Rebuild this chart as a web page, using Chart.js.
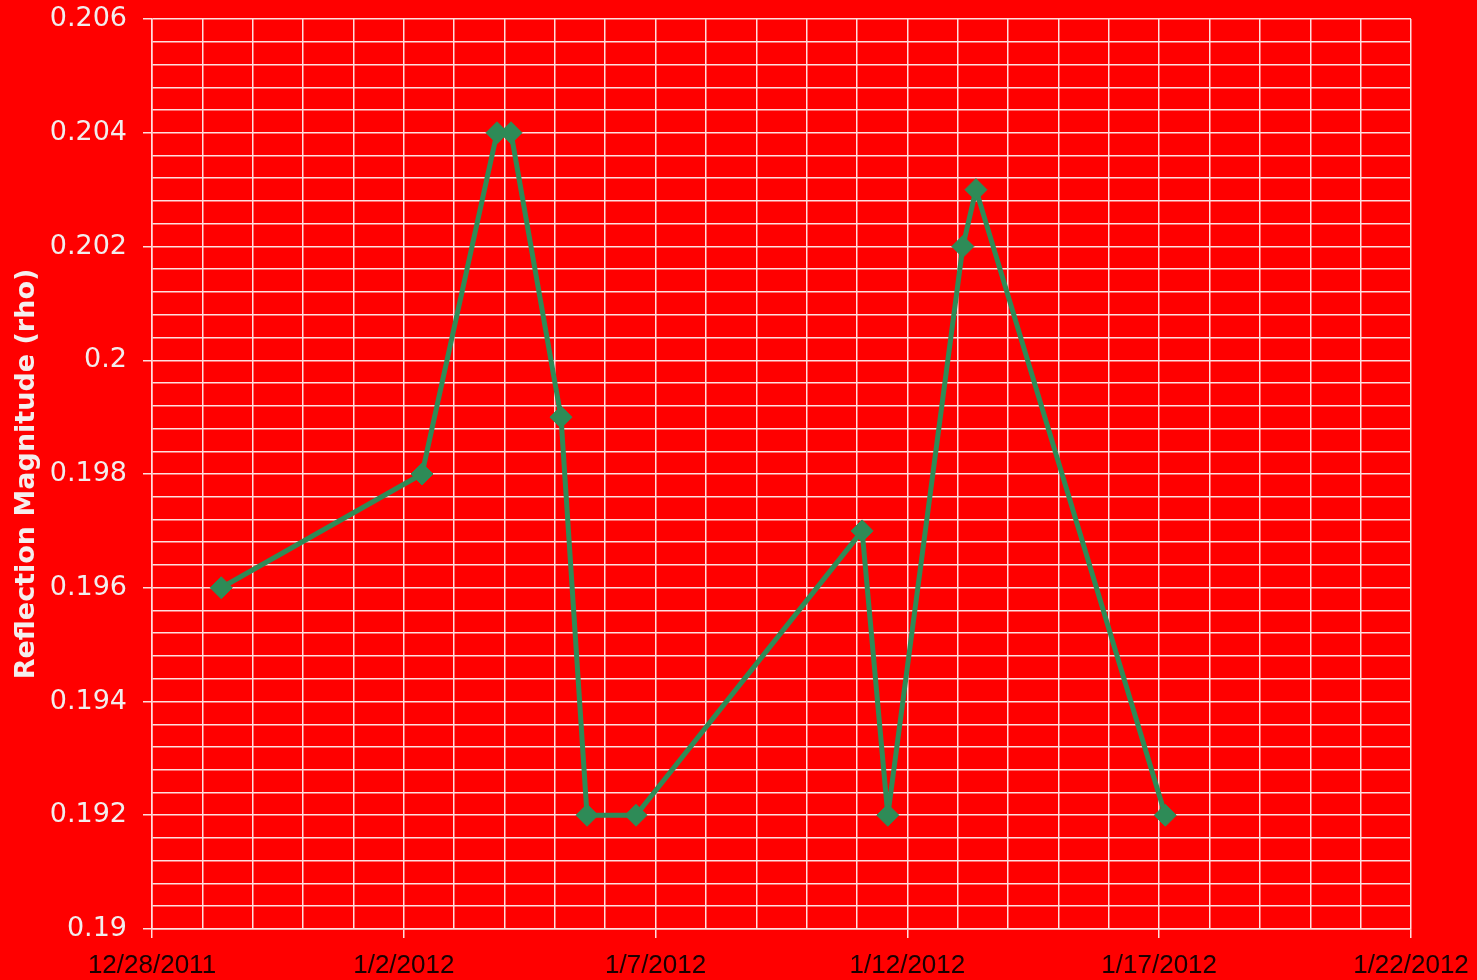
<!DOCTYPE html>
<html>
<head>
<meta charset="utf-8">
<script src="https://cdn.jsdelivr.net/npm/chart.js@4/dist/chart.umd.min.js"></script>
<style>
	html, body { margin: 0; padding: 0; background: #ff0000; }
	#wrap { width: 1477px; height: 980px; }
</style>
</head>
<body>
<div id="wrap"><canvas id="reflectionChart"></canvas></div>
<script>
// measurement times and reflection magnitude
const times = [
	'2011-12-29T09:00', '2012-01-02T08:40', '2012-01-03T20:25', '2012-01-04T03:05',
	'2012-01-05T02:55', '2012-01-05T15:20', '2012-01-06T14:40', '2012-01-11T02:25',
	'2012-01-11T14:40', '2012-01-13T02:25', '2012-01-13T08:40', '2012-01-17T02:55'
];
const rho = [0.196, 0.198, 0.204, 0.204, 0.199, 0.192, 0.192, 0.197, 0.192, 0.202, 0.203, 0.192];
const startDate = '2011-12-28T00:00';
const dayCount = 25;
const yMin = 0.19;
const yMax = 0.206;

const DAY = 86400000;
const t0 = Date.parse(startDate + 'Z');
const points = times.map((t, i) => ({ x: (Date.parse(t + 'Z') - t0) / DAY, y: rho[i] }));

function dayLabel(v) {
	const d = new Date(t0 + v * DAY);
	return (d.getUTCMonth() + 1) + '/' + d.getUTCDate() + '/' + d.getUTCFullYear();
}
const isMajorY = v => Math.round(v * 10000) % 20 === 0;
const gridColor = '#ffdede';

const ctx = document.getElementById('reflectionChart').getContext('2d');
new Chart(ctx, {
	type: 'line',
	data: {
		datasets: [{
			label: 'rho',
			data: points,
			borderColor: '#2e8b57',
			backgroundColor: '#2e8b57',
			borderWidth: 5,
			borderJoinStyle: 'round',
			pointStyle: 'rectRot',
			pointRadius: 11,
			pointBorderWidth: 1,
			tension: 0,
			fill: false
		}]
	},
	options: {
		responsive: true,
		maintainAspectRatio: false,
		animation: false,
		layout: { padding: { top: 19, right: 66, left: 0, bottom: 0 } },
		plugins: {
			legend: { display: false },
			tooltip: { enabled: false }
		},
		scales: {
			x: {
				type: 'linear',
				min: 0,
				max: dayCount,
				afterFit: s => { s.height = 51; s.paddingLeft = 0; s.paddingRight = 0; },
				border: { color: gridColor, width: 1.5 },
				grid: {
					color: gridColor,
					lineWidth: 1.5,
					tickLength: 9,
					tickColor: c => (c.tick && c.tick.value % 5 === 0) ? gridColor : 'rgba(0,0,0,0)'
				},
				ticks: {
					stepSize: 1,
					autoSkip: false,
					maxRotation: 0,
					padding: 12,
					color: '#1a0000',
					font: { family: 'Liberation Sans', size: 26 },
					callback: v => v % 5 === 0 ? dayLabel(v) : ''
				}
			},
			y: {
				min: yMin,
				max: yMax,
				afterFit: s => { s.width = 152; s.paddingTop = 0; s.paddingBottom = 0; },
				border: { color: gridColor, width: 1.5 },
				grid: {
					color: gridColor,
					lineWidth: 1.5,
					tickLength: 9,
					tickColor: c => (c.tick && isMajorY(c.tick.value)) ? gridColor : 'rgba(0,0,0,0)'
				},
				ticks: {
					stepSize: 0.0004,
					autoSkip: false,
					padding: 16,
					color: '#f2eded',
					font: { family: 'DejaVu Sans', size: 27 },
					callback: v => isMajorY(v) ? String(parseFloat(v.toFixed(3))) : ''
				},
				title: {
					display: true,
					text: 'Reflection Magnitude (rho)',
					color: '#f4eeee',
					padding: { top: 11, bottom: 0 },
					font: { family: 'DejaVu Sans', size: 27, weight: 'bold' }
				}
			}
		}
	}
});
</script>
</body>
</html>
